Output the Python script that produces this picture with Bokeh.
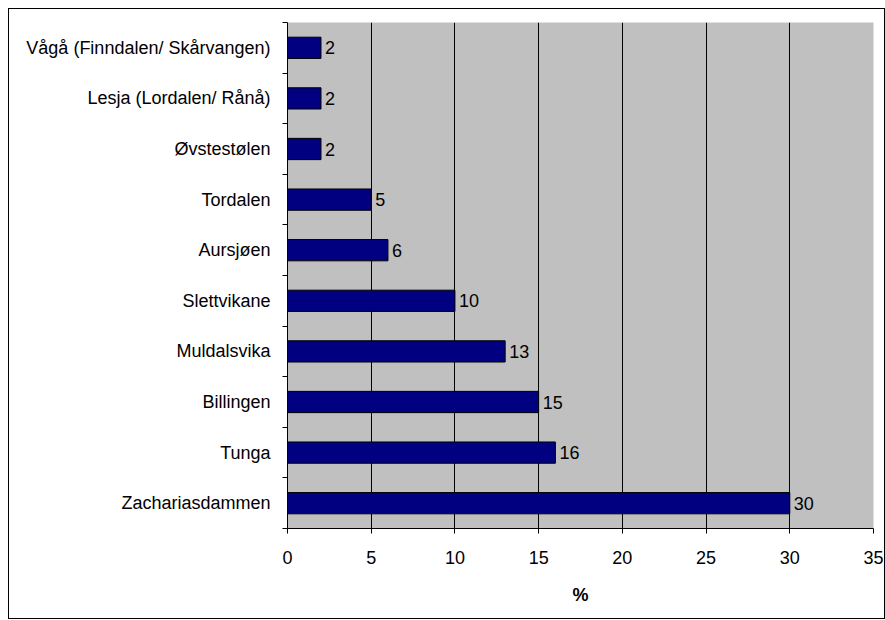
from bokeh.plotting import figure
from bokeh.models import FixedTicker, ColumnDataSource, Range1d
from bokeh.embed import file_html
from bokeh.resources import INLINE
from bokeh.core.properties import value

categories = ["Zachariasdammen", "Tunga", "Billingen", "Muldalsvika", "Slettvikane",
              "Aursjøen", "Tordalen", "Øvstestølen", "Lesja (Lordalen/ Rånå)",
              "Vågå (Finndalen/ Skårvangen)"]
values = [30, 16, 15, 13, 10, 6, 5, 2, 2, 2]
x_ticks = [0, 5, 10, 15, 20, 25, 30, 35]
x_label = "%"

pos = [i + 0.5 for i in range(len(categories))]
src = ColumnDataSource(dict(y=pos, v=values, t=[str(v) for v in values]))

FONT = "Liberation Sans"
FS = "18px"
p = figure(width=875, height=609, output_backend="svg", toolbar_location=None,
           x_range=Range1d(0, 35), y_range=Range1d(0, len(categories)),
           frame_width=586, frame_height=506,
           min_border_left=278, min_border_top=13, min_border_right=11, min_border_bottom=90)
p.styles = {"border": "1px solid black", "margin-left": "8px", "margin-top": "8px"}
p.background_fill_color = "#C0C0C0"
p.border_fill_color = "white"
p.outline_line_color = None

p.hbar(y="y", right="v", left=0, height=0.42, source=src,
       fill_color="#000080", line_color="black", line_width=1)
p.text(x="v", y="y", text="t", source=src, x_offset=4,
       text_baseline="middle", text_align="left", text_font=value(FONT),
       text_font_size=FS, text_color="black")

p.xaxis.ticker = FixedTicker(ticks=x_ticks)
p.xaxis.axis_label = x_label
p.xaxis.axis_label_text_font = FONT
p.xaxis.axis_label_text_font_style = "bold"
p.xaxis.axis_label_text_font_size = FS
p.xaxis.axis_label_text_color = "black"
p.xaxis.axis_label_standoff = 18
p.xaxis.major_label_text_font = FONT
p.xaxis.major_label_text_font_size = FS
p.xaxis.major_label_text_color = "black"
p.xaxis.major_label_standoff = 17
p.xaxis.major_tick_out = 5
p.xaxis.major_tick_in = 0
p.xaxis.minor_tick_out = 0
p.xaxis.minor_tick_in = 0
p.xaxis.axis_line_color = "black"
p.xaxis.major_tick_line_color = "black"

p.yaxis.ticker = FixedTicker(ticks=pos, minor_ticks=list(range(len(categories) + 1)))
p.yaxis.major_label_overrides = {pv: c for pv, c in zip(pos, categories)}
p.yaxis.major_label_text_font = FONT
p.yaxis.major_label_text_font_size = FS
p.yaxis.major_label_text_color = "black"
p.yaxis.major_label_standoff = 12
p.yaxis.major_tick_out = 0
p.yaxis.major_tick_in = 0
p.yaxis.minor_tick_out = 5
p.yaxis.minor_tick_in = 0
p.yaxis.minor_tick_line_color = "black"
p.yaxis.axis_line_color = "black"

p.xgrid.ticker = FixedTicker(ticks=x_ticks)
p.xgrid.grid_line_color = "black"
p.xgrid.grid_line_width = 1
p.ygrid.grid_line_color = None

open("out.html", "w").write(file_html(p, INLINE))
